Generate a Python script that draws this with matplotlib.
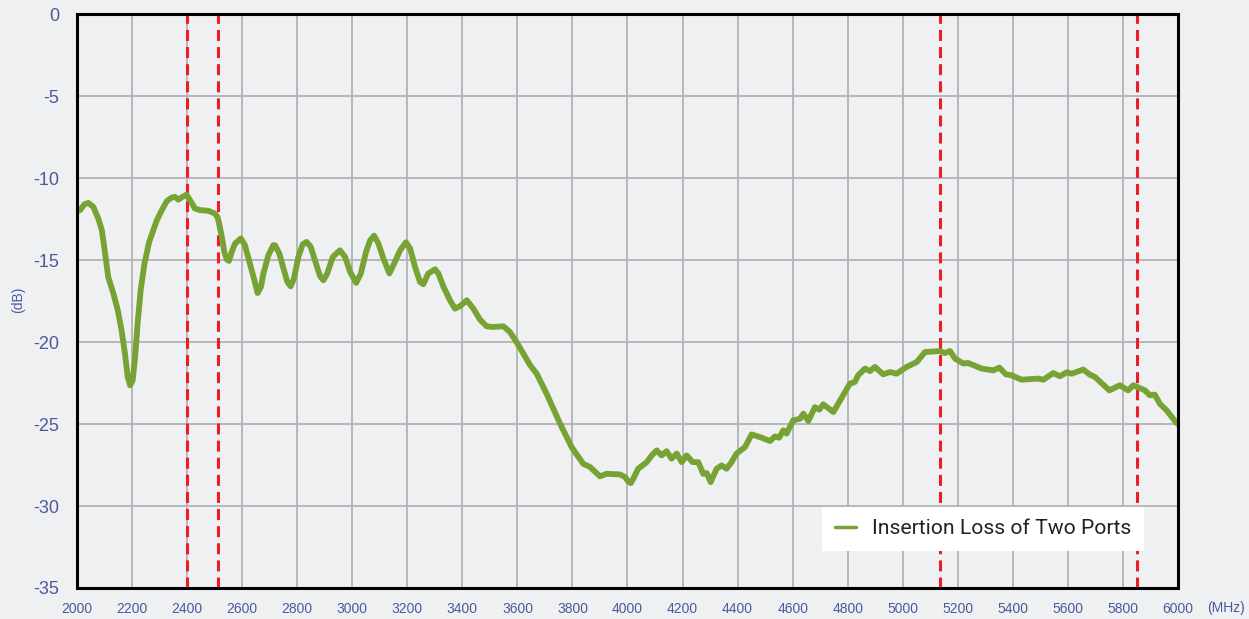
import numpy as np
import matplotlib.pyplot as plt

# insertion loss curve (MHz, dB)
freq = [2000, 2011, 2027, 2041, 2059, 2077, 2090, 2102, 2113, 2132, 2148, 2162, 2174, 2184,
        2193, 2202, 2211, 2220, 2231, 2245, 2262, 2290, 2308, 2326, 2344, 2356, 2368, 2383,
        2398, 2414, 2428, 2447, 2477, 2501, 2511, 2516, 2526, 2535, 2544, 2552, 2562, 2574,
        2595, 2610, 2628, 2644, 2656, 2668, 2677, 2695, 2713, 2719, 2735, 2750, 2764, 2776,
        2788, 2804, 2820, 2834, 2849, 2868, 2883, 2895, 2909, 2929, 2955, 2974, 2992, 3014,
        3031, 3050, 3065, 3079, 3095, 3113, 3135, 3152, 3174, 3195, 3210, 3228, 3246, 3258,
        3276, 3301, 3313, 3331, 3355, 3373, 3392, 3416, 3440, 3464, 3488, 3512, 3549, 3573,
        3597, 3646, 3670, 3706, 3755, 3797, 3839, 3864, 3900, 3924, 3973, 3991, 4003, 4012,
        4021, 4039, 4070, 4088, 4106, 4124, 4142, 4160, 4179, 4197, 4215, 4237, 4257, 4275,
        4288, 4302, 4324, 4342, 4360, 4378, 4396, 4427, 4451, 4481, 4518, 4536, 4551, 4566,
        4578, 4602, 4627, 4639, 4657, 4681, 4697, 4711, 4748, 4808, 4826, 4838, 4863, 4881,
        4899, 4929, 4954, 4978, 5014, 5051, 5081, 5135, 5153, 5172, 5190, 5220, 5238, 5287,
        5329, 5351, 5375, 5396, 5432, 5492, 5511, 5547, 5571, 5596, 5614, 5656, 5680, 5699,
        5751, 5789, 5819, 5838, 5880, 5898, 5916, 5934, 5959, 5989, 6000]
loss = [-12.0, -11.94, -11.58, -11.5, -11.74, -12.45, -13.16, -14.59, -16.0, -17.03, -18.05,
        -19.3, -20.7, -22.13, -22.63, -22.33, -20.9, -18.86, -16.83, -15.2, -13.88, -12.55,
        -11.94, -11.39, -11.17, -11.13, -11.3, -11.13, -11.0, -11.43, -11.84, -11.94, -11.98,
        -12.15, -12.39, -12.75, -13.57, -14.49, -14.95, -15.04, -14.49, -13.98, -13.67, -14.08,
        -15.2, -16.2, -17.0, -16.63, -15.81, -14.7, -14.08, -14.08, -14.59, -15.5, -16.32,
        -16.59, -16.12, -14.8, -14.02, -13.88, -14.18, -15.2, -15.97, -16.22, -15.81, -14.8,
        -14.39, -14.8, -15.71, -16.38, -15.81, -14.49, -13.78, -13.5, -13.98, -14.89, -15.8,
        -15.2, -14.39, -13.9, -14.28, -15.4, -16.32, -16.46, -15.81, -15.55, -15.81, -16.6,
        -17.44, -17.95, -17.8, -17.44, -17.95, -18.62, -19.03, -19.07, -19.03, -19.38, -19.99,
        -21.4, -21.92, -23.14, -24.97, -26.4, -27.42, -27.62, -28.19, -28.03, -28.07, -28.23,
        -28.5, -28.6, -28.33, -27.72, -27.32, -26.91, -26.6, -26.91, -26.65, -27.11, -26.8,
        -27.32, -26.91, -27.32, -27.32, -28.03, -27.99, -28.54, -27.72, -27.52, -27.72, -27.32,
        -26.8, -26.4, -25.63, -25.79, -26.03, -25.75, -25.83, -25.38, -25.58, -24.77, -24.67,
        -24.36, -24.81, -23.96, -24.12, -23.79, -24.26, -22.53, -22.43, -22.02, -21.61, -21.76,
        -21.51, -21.96, -21.82, -21.92, -21.51, -21.21, -20.6, -20.54, -20.66, -20.54, -21.0,
        -21.3, -21.27, -21.61, -21.72, -21.55, -21.96, -22.02, -22.29, -22.22, -22.29, -21.88,
        -22.08, -21.84, -21.92, -21.67, -21.98, -22.13, -22.94, -22.63, -22.94, -22.63, -22.94,
        -23.24, -23.2, -23.75, -24.16, -24.81, -25.0]

band_edges = [2400, 2512, 5135, 5850]
x_ticks = list(range(2000, 6001, 200))
y_ticks = [0, -5, -10, -15, -20, -25, -30, -35]
series_name = "Insertion Loss of Two Ports"

bg = "#eff0f2"
label_blue = "#4b5a9c"

fig = plt.figure(figsize=(12.49, 6.19), dpi=100, facecolor=bg)
ax = fig.add_axes([0.0617, 0.0501, 0.8814, 0.9265])
ax.set_facecolor(bg)

ax.plot(freq, loss, color="#76a333", lw=4.2, solid_capstyle="round",
        solid_joinstyle="round", label=series_name, zorder=4)

for f in band_edges:
    ax.axvline(f, color="#ee1c25", lw=2.2, dashes=(3.6, 2.0), zorder=3)

ax.set_xlim(2000, 6000)
ax.set_ylim(-35, 0)
ax.set_xticks(x_ticks)
ax.set_yticks(y_ticks)
ax.set_yticklabels([str(v) for v in y_ticks])
ax.grid(True, color="#b3b3b7", lw=1.3, zorder=1)
ax.set_axisbelow(True)

ax.tick_params(axis="y", length=0, pad=13, labelsize=13, labelcolor=label_blue)
ax.tick_params(axis="x", length=0, pad=10, labelsize=10, labelcolor=label_blue)
for lab in ax.get_xticklabels() + ax.get_yticklabels():
    lab.set_family("Liberation Sans")

for s in ax.spines.values():
    s.set_color("black")
    s.set_linewidth(2.2)
    s.set_zorder(5)

fig.text(0.9665, 0.0185, "(MHz)", color=label_blue, fontsize=10,
         family="Liberation Sans", ha="left", va="center")
fig.text(0.0145, 0.515, "(dB)", color=label_blue, fontsize=10, rotation=90,
         family="Liberation Sans", ha="center", va="center")

leg = ax.legend(loc="lower left", bbox_to_anchor=(0.677, 0.0645), borderaxespad=0,
                frameon=True, fancybox=False, framealpha=1, handlelength=1.0,
                handletextpad=0.75, borderpad=0.6,
                prop={"family": "Roboto", "size": 15.2})
leg.get_frame().set_facecolor("white")
leg.get_frame().set_edgecolor("none")
leg.get_frame().set_linewidth(0)
for t in leg.get_texts():
    t.set_color("#222222")
for h in leg.get_lines():
    h.set_linewidth(2.5)
leg.set_zorder(6)

fig.savefig("out.png", dpi=100, facecolor=bg)
